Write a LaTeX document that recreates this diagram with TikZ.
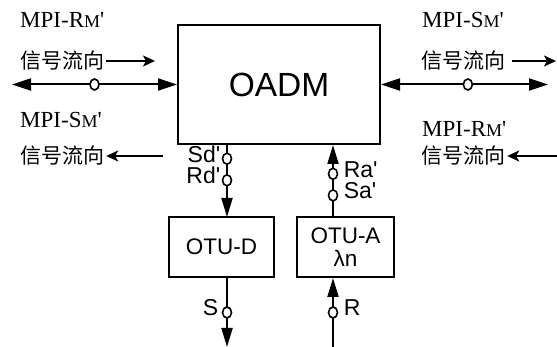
\documentclass[tikz,border=0pt]{standalone}
\usepackage{fontspec}
\setmainfont{Liberation Serif}
\setsansfont{Liberation Sans}
\newfontfamily\cjk{Noto Sans CJK SC}
\usetikzlibrary{shapes.geometric, arrows.meta, positioning}
\tikzset{
	box/.style   ={rectangle, draw=black, line width=2pt, font=\sffamily\fontsize{22.5}{23}\selectfont, align=center},
	bigarr/.style={{Triangle[length=19pt,width=12pt]}-{Triangle[length=19pt,width=12pt]}, line width=2pt},
	sig/.style   ={-{Triangle[length=19pt,width=11pt]}, line width=2pt},
	flow/.style  ={-{Stealth[length=12pt,width=11pt,inset=3pt]}, line width=1.6pt},
	port/.style  ={ellipse, draw=black, fill=white, line width=1.6pt, minimum width=9pt, minimum height=11pt, inner sep=0pt},
	cn/.style    ={font=\cjk\fontsize{21}{22}\selectfont, inner sep=2pt},
	mpi/.style   ={font=\rmfamily\fontsize{23}{24}\selectfont, inner sep=0pt, anchor=base west},
	lbl/.style   ={font=\sffamily\fontsize{23}{23}\selectfont, inner sep=0.5pt, text height=0.7em, text depth=0pt},
}
\newcommand{\mpiname}[1]{MPI-#1{\fontsize{18}{18}\selectfont M}\textquotesingle}

\begin{document}
\begin{tikzpicture}[x=1pt, y=-1pt]
	\useasboundingbox (0,0) rectangle (557,347);
	% blocks
	\node[box, minimum width=202pt, minimum height=119pt, font=\sffamily\fontsize{33.5}{34}\selectfont] (oadm) at (279,84.5) {OADM};
	\node[box, minimum width=105pt, minimum height=60pt] (otud) at (221.5,247) {OTU-D};
	\node[box, minimum width=97pt, minimum height=60pt] (otua) at (345.5,247) {OTU-A\\λn};
	% line side, west and east
	\coordinate (lend) at (12,84.5);
	\coordinate (rend) at (548,84.5);
	\draw[bigarr] (lend) -- node[port] {} (oadm.west);
	\draw[bigarr] (oadm.east) -- node[port, pos=0.52] {} (rend);
	% interface names
	\node[mpi] (mpilr) at (20,28) {\mpiname{R}};
	\node[mpi] (mpils) at (20,128) {\mpiname{S}};
	\node[mpi] (mpirs) at (422,28) {\mpiname{S}};
	\node[mpi] (mpirr) at (422,137) {\mpiname{R}};
	% signal direction
	\node[cn] (fl1) at (62,61) {信号流向};
	\node[cn] (fl2) at (62,156) {信号流向};
	\node[cn] (fr1) at (463,61) {信号流向};
	\node[cn] (fr2) at (463,156) {信号流向};
	\coordinate (fl1e) at (155,61);
	\coordinate (fl2s) at (163,156);
	\coordinate (fr1e) at (556,61);
	\coordinate (fr2s) at (557,156);
	\draw[flow] (fl1) -- (fl1e);
	\draw[flow] (fl2s) -- (fl2);
	\draw[flow, shorten <=5pt] (fr1) -- (fr1e);
	\draw[flow] (fr2s) -- (fr2);
	% drop and add ports
	\coordinate (dlink) at (227,217);
	\coordinate (alink) at (333,217);
	\coordinate (sout) at (227,347);
	\coordinate (rin) at (333,347);
	\draw[sig] (dlink |- oadm.south) --
		node[port, pos=0.19, label={[lbl, label distance=0pt]left:{Sd\textquotesingle}}] {}
		node[port, pos=0.49, label={[lbl, label distance=0pt]left:{Rd\textquotesingle}}] {} (dlink);
	\draw[sig] (alink) --
		node[port, pos=0.30, label={[lbl, label distance=4pt]right:{Sa\textquotesingle}}] {}
		node[port, pos=0.60, label={[lbl, label distance=4pt]right:{Ra\textquotesingle}}] {} (alink |- oadm.south);
	\draw[sig] (sout |- otud.south) -- node[port, label={[lbl, label distance=2pt]left:S}] {} (sout);
	\draw[sig] (rin) -- node[port, label={[lbl, label distance=4pt]right:R}] {} (rin |- otua.south);
\end{tikzpicture}
\end{document}
